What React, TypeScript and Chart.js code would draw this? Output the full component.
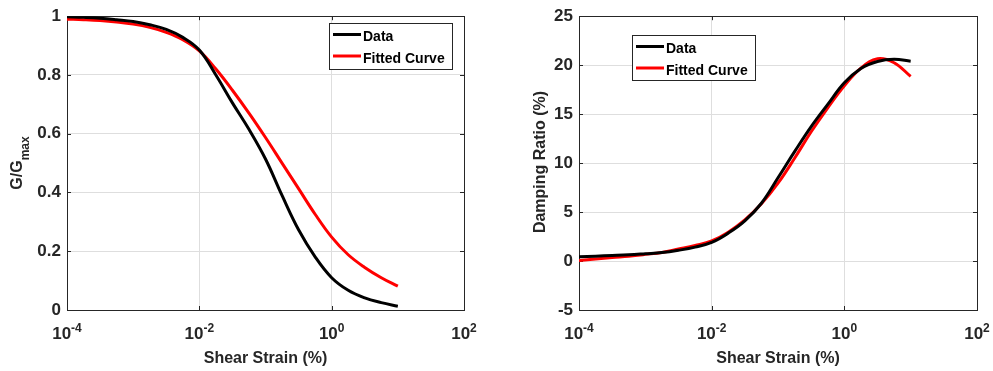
import React, { useEffect, useRef } from 'react';
import { Chart, registerables } from 'chart.js';

Chart.register(...registerables);

// ---------- data ----------
const strain = [
  1e-4, 1.778e-4, 3.162e-4, 5.623e-4, 1e-3, 1.778e-3, 3.162e-3, 5.623e-3,
  1e-2, 1.778e-2, 3.162e-2, 5.623e-2, 0.1, 0.1778, 0.3162, 0.5623, 1, 1.778,
  3.162, 5.623, 10,
];
const gData = [
  0.998, 0.996, 0.993, 0.988, 0.982, 0.971, 0.955, 0.928, 0.885, 0.8, 0.705,
  0.615, 0.514, 0.39, 0.273, 0.181, 0.11, 0.067, 0.041, 0.025, 0.013,
];
const gFit = [
  0.99, 0.988, 0.985, 0.98, 0.973, 0.962, 0.945, 0.92, 0.882, 0.82, 0.748,
  0.67, 0.587, 0.5, 0.413, 0.326, 0.248, 0.188, 0.145, 0.11, 0.081,
];
const dData = [
  0.45, 0.5, 0.56, 0.63, 0.74, 0.86, 1.1, 1.42, 1.9, 2.85, 4.1, 5.9, 8.5,
  11.17, 13.73, 16.0, 18.2, 19.66, 20.38, 20.6, 20.4,
];
const dFit = [
  0.05, 0.2, 0.36, 0.5, 0.68, 0.88, 1.22, 1.58, 2.05, 2.95, 4.2, 5.85, 7.95,
  10.5, 13.2, 15.65, 17.9, 19.7, 20.65, 20.25, 18.86,
];

const seriesLabels = ['Data', 'Fitted Curve'];
const seriesColors = ['#000000', '#ff0000'];

const xTickValues = [1e-4, 1e-2, 1, 100];
const xTickBase = '10';
const xTickExponents = ['-4', '-2', '0', '2'];
const xTitle = 'Shear Strain (%)';

const gTicks = [0, 0.2, 0.4, 0.6, 0.8, 1];
const gTickLabels = ['0', '0.2', '0.4', '0.6', '0.8', '1'];
const dTicks = [-5, 0, 5, 10, 15, 20, 25];
const dTickLabels = ['-5', '0', '5', '10', '15', '20', '25'];

const gTitleMain = 'G/G';
const gTitleSub = 'max';
const dTitle = 'Damping Ratio (%)';

// ---------- style ----------
const FONT = '"Liberation Sans", Arial, Helvetica, sans-serif';
const FRAME = '#262626';
const TEXT = '#262626';
const GRID = '#dedede';
const H = 371;

type PanelCfg = {
  id: string;
  left: number;
  width: number;
  area: { left: number; right: number; top: number; bottom: number };
  yMin: number;
  yMax: number;
  yTicks: number[];
  yLabels: string[];
  series: number[][];
  yTitle: { main: string; sub?: string; baselineX: number; centerY: number };
  legend: { x: number; y: number; w: number; h: number };
};

function makePlugin(cfg: PanelCfg) {
  return {
    id: 'matlabDecor' + cfg.id,
    beforeDatasetsDraw(chart: any) {
      const { ctx, chartArea: a, scales } = chart;
      ctx.save();
      ctx.strokeStyle = FRAME;
      ctx.lineWidth = 1;
      ctx.beginPath();
      xTickValues.forEach((v) => {
        const px = Math.round(scales.x.getPixelForValue(v)) + 0.5;
        ctx.moveTo(px, a.bottom);
        ctx.lineTo(px, a.bottom - 4);
        ctx.moveTo(px, a.top);
        ctx.lineTo(px, a.top + 4);
      });
      cfg.yTicks.forEach((v) => {
        const py = Math.round(scales.y.getPixelForValue(v)) + 0.5;
        ctx.moveTo(a.left, py);
        ctx.lineTo(a.left + 4, py);
        ctx.moveTo(a.right, py);
        ctx.lineTo(a.right - 4, py);
      });
      ctx.stroke();
      ctx.strokeRect(
        Math.round(a.left) + 0.5,
        Math.round(a.top) + 0.5,
        Math.round(a.right - a.left),
        Math.round(a.bottom - a.top)
      );
      ctx.restore();
    },
    afterDraw(chart: any) {
      const { ctx, chartArea: a, scales } = chart;
      ctx.save();
      ctx.fillStyle = TEXT;
      ctx.textBaseline = 'alphabetic';
      ctx.textAlign = 'left';
      // x tick labels with superscripts
      const baseFont = `bold 17px ${FONT}`;
      const expFont = `bold 12px ${FONT}`;
      xTickValues.forEach((v, i) => {
        const px = scales.x.getPixelForValue(v);
        ctx.font = baseFont;
        const wb = ctx.measureText(xTickBase).width;
        ctx.font = expFont;
        const we = ctx.measureText(xTickExponents[i]).width;
        const x0 = px - (wb + we) / 2;
        ctx.font = baseFont;
        ctx.fillText(xTickBase, x0, 339);
        ctx.font = expFont;
        ctx.fillText(xTickExponents[i], x0 + wb, 332);
      });
      // x title
      ctx.font = `bold 16px ${FONT}`;
      ctx.textAlign = 'center';
      ctx.fillText(xTitle, (a.left + a.right) / 2, 363);
      // y title (rotated)
      const t = cfg.yTitle;
      ctx.save();
      ctx.translate(t.baselineX, t.centerY);
      ctx.rotate(-Math.PI / 2);
      ctx.textAlign = 'left';
      ctx.font = `bold 16px ${FONT}`;
      const w1 = ctx.measureText(t.main).width;
      let w2 = 0;
      if (t.sub) {
        ctx.font = `bold 12px ${FONT}`;
        w2 = ctx.measureText(t.sub).width;
      }
      const start = -(w1 + w2) / 2;
      ctx.font = `bold 16px ${FONT}`;
      ctx.fillText(t.main, start, 0);
      if (t.sub) {
        ctx.font = `bold 12px ${FONT}`;
        ctx.fillText(t.sub, start + w1, 7);
      }
      ctx.restore();
      // legend
      const L = cfg.legend;
      ctx.fillStyle = '#ffffff';
      ctx.fillRect(L.x, L.y, L.w, L.h);
      ctx.strokeStyle = FRAME;
      ctx.lineWidth = 1;
      ctx.strokeRect(L.x + 0.5, L.y + 0.5, L.w, L.h);
      chart.data.datasets.forEach((ds: any, i: number) => {
        const ly = L.y + 11.5 + i * 21.5;
        ctx.strokeStyle = ds.borderColor;
        ctx.lineWidth = 3;
        ctx.beginPath();
        ctx.moveTo(L.x + 4, ly);
        ctx.lineTo(L.x + 32, ly);
        ctx.stroke();
        ctx.fillStyle = '#000000';
        ctx.font = `bold 14px ${FONT}`;
        ctx.textAlign = 'left';
        ctx.fillText(ds.label, L.x + 34, ly + 6.5);
      });
      ctx.restore();
    },
  };
}

function Panel({ cfg }: { cfg: PanelCfg }) {
  const ref = useRef<HTMLCanvasElement>(null);
  useEffect(() => {
    const canvas = ref.current!;
    const chart = new Chart(canvas, {
      type: 'line',
      data: {
        datasets: cfg.series.map((vals, i) => ({
          label: seriesLabels[i],
          data: strain.map((s, k) => ({ x: s, y: vals[k] })),
          borderColor: seriesColors[i],
          backgroundColor: seriesColors[i],
          borderWidth: 3,
          pointRadius: 0,
          fill: false,
          tension: 0.4,
          borderCapStyle: 'butt',
          borderJoinStyle: 'round',
        })),
      },
      options: {
        animation: false,
        responsive: false,
        devicePixelRatio: 1,
        events: [],
        layout: {
          padding: {
            top: cfg.area.top,
            right: cfg.width - cfg.area.right,
            left: 0,
            bottom: 0,
          },
        },
        plugins: {
          legend: { display: false },
          tooltip: { enabled: false },
          title: { display: false },
        },
        scales: {
          x: {
            type: 'logarithmic',
            min: 1e-4,
            max: 100,
            afterBuildTicks: (s: any) => {
              s.ticks = xTickValues.map((v) => ({ value: v }));
            },
            afterFit: (s: any) => {
              s.height = H - cfg.area.bottom;
            },
            ticks: { display: false },
            grid: { color: GRID, lineWidth: 1, drawTicks: false },
            border: { display: false },
          },
          y: {
            type: 'linear',
            min: cfg.yMin,
            max: cfg.yMax,
            afterBuildTicks: (s: any) => {
              s.ticks = cfg.yTicks.map((v) => ({ value: v }));
            },
            afterFit: (s: any) => {
              s.width = cfg.area.left;
            },
            ticks: {
              font: { family: FONT, size: 17, weight: 'bold' },
              color: TEXT,
              padding: 6,
              callback: (_v: any, i: number) => cfg.yLabels[i],
            },
            grid: { color: GRID, lineWidth: 1, drawTicks: false },
            border: { display: false },
          },
        },
      } as any,
      plugins: [makePlugin(cfg)],
    });
    return () => chart.destroy();
  }, []);
  return (
    <canvas
      ref={ref}
      width={cfg.width}
      height={H}
      style={{
        position: 'absolute',
        left: cfg.left,
        top: 0,
        width: cfg.width,
        height: H,
      }}
    />
  );
}

const leftCfg: PanelCfg = {
  id: 'G',
  left: 0,
  width: 496,
  area: { left: 67, right: 464, top: 13, bottom: 310 },
  yMin: 0,
  yMax: 1,
  yTicks: gTicks,
  yLabels: gTickLabels,
  series: [gData, gFit],
  yTitle: { main: gTitleMain, sub: gTitleSub, baselineX: 22, centerY: 163 },
  legend: { x: 329, y: 23, w: 123, h: 46 },
};

const rightCfg: PanelCfg = {
  id: 'D',
  left: 496,
  width: 497,
  area: { left: 83, right: 481, top: 12, bottom: 310 },
  yMin: -5,
  yMax: 25,
  yTicks: dTicks,
  yLabels: dTickLabels,
  series: [dData, dFit],
  yTitle: { main: dTitle, baselineX: 49, centerY: 162 },
  legend: { x: 136, y: 35, w: 123, h: 45 },
};

export default function App() {
  return (
    <div
      style={{
        position: 'fixed',
        left: 0,
        top: 0,
        width: 993,
        height: H,
        background: '#ffffff',
      }}
    >
      <Panel cfg={leftCfg} />
      <Panel cfg={rightCfg} />
    </div>
  );
}
